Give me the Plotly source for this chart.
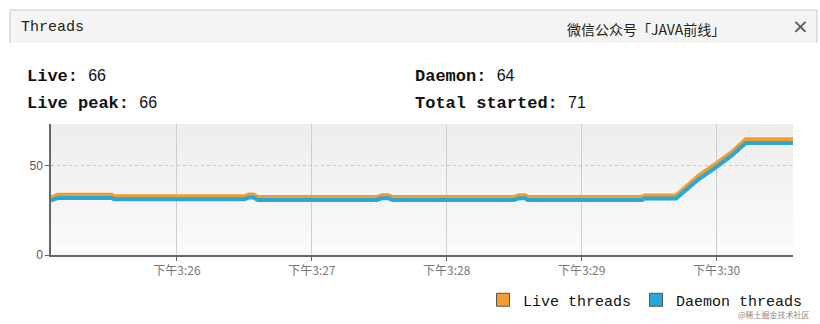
import plotly.graph_objects as go

DAY = "2024-01-01 "

live_times = ["15:25:04", "15:25:07", "15:25:31", "15:25:32", "15:26:30", "15:26:32", "15:26:34",
              "15:26:36", "15:27:29", "15:27:31", "15:27:34", "15:27:36", "15:28:30", "15:28:32",
              "15:28:35", "15:28:36", "15:29:27", "15:29:28", "15:29:42", "15:29:46", "15:29:52",
              "15:30:00", "15:30:07", "15:30:10", "15:30:13", "15:30:34"]
live_values = [32.2, 33.8, 33.8, 33.0, 33.0, 34.0, 34.0,
               32.5, 32.5, 33.5, 33.5, 32.5, 32.5, 33.5,
               33.5, 32.5, 32.5, 33.4, 33.4, 38.0, 44.5,
               51.5, 58.0, 61.5, 65.0, 65.0]
daemon_values = [30.5, 32.0, 32.0, 31.3, 31.3, 32.3, 32.3,
                 30.8, 30.8, 31.8, 31.8, 30.8, 30.8, 31.8,
                 31.8, 30.8, 30.8, 31.7, 31.7, 36.0, 42.5,
                 49.5, 56.0, 59.5, 62.8, 62.8]

tick_times = ["15:26:00", "15:27:00", "15:28:00", "15:29:00", "15:30:00"]
tick_labels = ["下午3:26", "下午3:27", "下午3:28", "下午3:29", "下午3:30"]

stats = [("Live", "66", 25, 76), ("Live peak", "66", 25, 103),
         ("Daemon", "64", 413, 76), ("Total started", "71", 413, 103)]

ORANGE = "#F39C2E"
BLUE = "#2AA7DA"
W, H = 820, 324
L, R, T, B = 51, 27, 124, 69
PW, PH = W - L - R, H - T - B


def px(x):
    return (x - L) / PW


def py(y):
    return (H - B - y) / PH


fig = go.Figure()
fig.add_trace(go.Scatter(x=[DAY + t for t in live_times], y=live_values, mode="lines",
                         line=dict(color=ORANGE, width=4), showlegend=False, hoverinfo="skip"))
fig.add_trace(go.Scatter(x=[DAY + t for t in live_times], y=daemon_values, mode="lines",
                         line=dict(color=BLUE, width=4), showlegend=False, hoverinfo="skip"))
for name, col in [("Live threads", ORANGE), ("Daemon threads", BLUE)]:
    fig.add_trace(go.Scatter(x=[None], y=[None], mode="markers", name=name,
                             marker=dict(symbol="square", size=13, color=col,
                                         line=dict(color="#555555", width=1))))

shapes = []
n = 12
for i in range(n):
    c0 = 0xEE + int((0xFB - 0xEE) * i / (n - 1))
    col = "#%02x%02x%02x" % (c0, c0, c0)
    shapes.append(dict(type="rect", xref="x domain", yref="y domain", x0=0, x1=1,
                       y0=1 - (i + 1) / n, y1=1 - i / n, fillcolor=col, line=dict(width=0),
                       layer="below"))
shapes.append(dict(type="rect", xref="paper", yref="paper",
                   x0=px(10), x1=px(817), y0=py(43), y1=py(10),
                   fillcolor="#F4F4F4", line=dict(width=0)))
shapes.append(dict(type="path", xref="paper", yref="paper",
                   path=f"M {px(10)} {py(43)} L {px(10)} {py(10)} L {px(817)} {py(10)} L {px(817)} {py(43)}",
                   line=dict(color="#C8C8C8", width=1)))
fig.update_layout(shapes=shapes)

ann = [
    dict(text="Threads", x=px(19), y=py(28), xanchor="left", yanchor="middle",
         font=dict(family="Liberation Mono", size=15, color="#222")),
    dict(text="微信公众号「JAVA前线」", x=px(565), y=py(29), xanchor="left", yanchor="middle",
         font=dict(family="Noto Sans CJK SC", size=14, color="#222")),
    dict(text="×", x=px(800), y=py(26), xanchor="center", yanchor="middle",
         font=dict(family="DejaVu Sans", size=20, color="#555")),
    dict(text="@稀土掘金技术社区", x=px(812), y=py(314), xanchor="right", yanchor="middle",
         font=dict(family="Noto Sans CJK SC", size=8, color="#888")),
]
for label, val, x0, y0 in stats:
    ann.append(dict(text=f"<b>{label}:</b> <span style='font-family:Liberation Sans;font-size:16px'>{val}</span>",
                    x=px(x0), y=py(y0), xanchor="left", yanchor="middle",
                    font=dict(family="Liberation Mono", size=17, color="#111")))
for a in ann:
    a.update(xref="paper", yref="paper", showarrow=False)

fig.update_layout(
    annotations=ann,
    width=W, height=H,
    margin=dict(l=L, r=R, t=T, b=B, pad=0, autoexpand=False),
    paper_bgcolor="white", plot_bgcolor="#F4F4F4",
    xaxis=dict(type="date", range=[DAY + "15:25:04", DAY + "15:30:34"],
               tickvals=[DAY + t for t in tick_times], ticktext=tick_labels,
               showgrid=True, gridcolor="#CFCFCF", gridwidth=1,
               showline=True, linecolor="#666", linewidth=1.5,
               ticks="outside", ticklen=4, tickcolor="#666",
               tickfont=dict(family="Noto Sans CJK SC", size=12, color="#777"),
               zeroline=False, fixedrange=True, automargin=False),
    yaxis=dict(range=[0, 73.5], tickvals=[0, 50], ticktext=["0", "50"],
               showgrid=True, gridcolor="#C8C8C8", griddash="dot", gridwidth=1,
               showline=True, linecolor="#666", linewidth=1.5,
               ticks="outside", ticklen=4, tickcolor="#666",
               tickfont=dict(family="Liberation Sans", size=12, color="#555"),
               zeroline=False, fixedrange=True, automargin=False),
    legend=dict(orientation="h", xref="container", yref="container",
                x=808 / W, xanchor="right", y=1 - 300 / H, yanchor="middle",
                bgcolor="rgba(0,0,0,0)",
                font=dict(family="Liberation Mono", size=15, color="#111"),
                itemwidth=30, tracegroupgap=0),
    showlegend=True,
)

fig.write_html("out.html", config={"displayModeBar": False})
